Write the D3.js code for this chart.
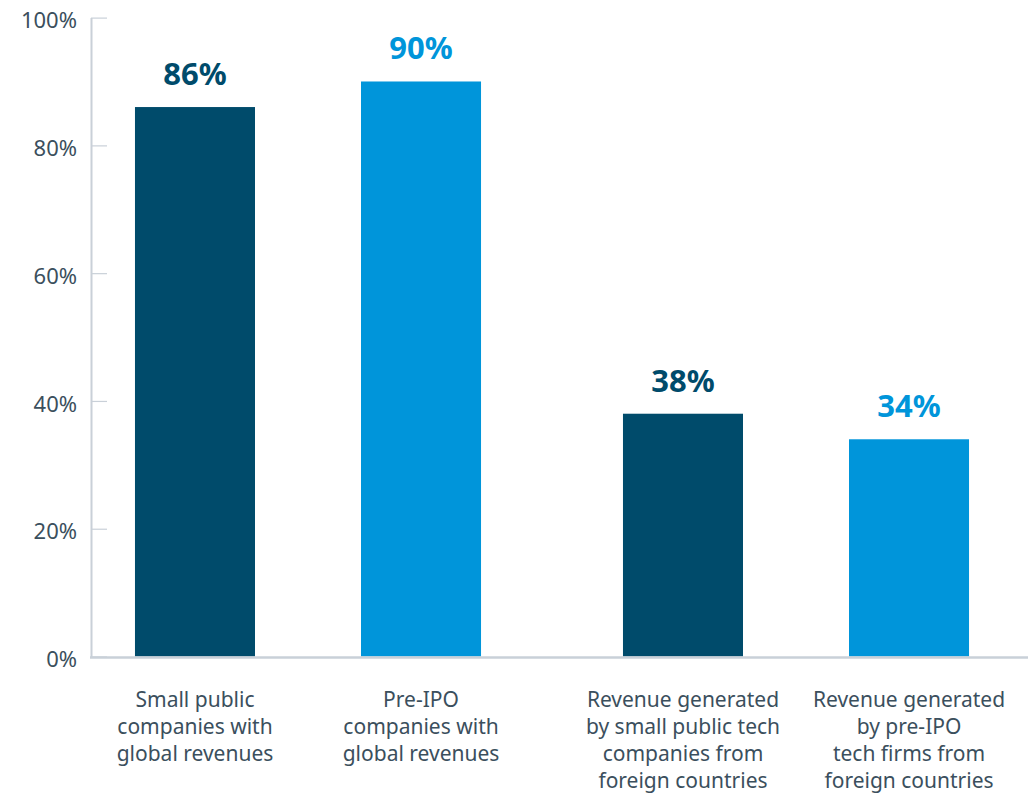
<!DOCTYPE html>
<html>
<head>
<meta charset="utf-8">
<script src="https://cdn.jsdelivr.net/npm/d3@7"></script>
<style>
  html, body { margin: 0; padding: 0; background: #fff; }
  svg { display: block; font-family: "Noto Sans", "Open Sans", sans-serif; }
</style>
</head>
<body>
<svg id="chart" width="1033" height="796"></svg>
<script>
// Chart data
const groups = ["global", "foreign"];
const series = ["public", "preIPO"];
const categoryLabels = [
  ["Small public", "companies with", "global revenues"],
  ["Pre-IPO", "companies with", "global revenues"],
  ["Revenue generated", "by small public tech", "companies from", "foreign countries"],
  ["Revenue generated", "by pre-IPO", "tech firms from", "foreign countries"]
];
const values = [86, 90, 38, 34];
const yTicks = [0, 20, 40, 60, 80, 100];

const colors = { public: "#004b6b", preIPO: "#0095da" };
const rows = values.map((v, i) => ({
  group: groups[Math.floor(i / 2)],
  series: series[i % 2],
  value: v,
  label: categoryLabels[i]
}));

const svg = d3.select("#chart");
const axisX = 91, plotRight = 1028, baseY = 656.5, topY = 17.6;

const y = d3.scaleLinear().domain([0, 100]).range([baseY, topY]);
const x0 = d3.scaleBand().domain(groups).range([64, 1040]).padding(0);
const x1 = d3.scaleBand().domain(series).range([0, x0.bandwidth()])
  .paddingInner(0.469).paddingOuter(0.314);

// Y axis with inward ticks
const yAxis = svg.append("g")
  .attr("transform", `translate(${axisX},0)`)
  .call(d3.axisLeft(y).tickValues(yTicks).tickFormat(d => d + "%")
    .tickSizeInner(-16).tickSizeOuter(0).tickPadding(14));
yAxis.select(".domain").attr("stroke", "#c9d0d8").attr("stroke-width", 2);
yAxis.selectAll(".tick line").attr("stroke", "#c9d0d8").attr("stroke-width", 1.2);
yAxis.selectAll(".tick text")
  .attr("fill", "#3b4f5d").attr("font-size", 22)
  .attr("dy", "0.46em")
  .attr("font-family", "'Noto Sans', sans-serif");

// Bars
const bars = svg.append("g");
bars.selectAll("rect").data(rows).join("rect")
  .attr("x", d => x0(d.group) + x1(d.series))
  .attr("y", d => y(d.value))
  .attr("width", x1.bandwidth())
  .attr("height", d => y(0) - y(d.value))
  .attr("fill", d => colors[d.series]);

// Baseline
svg.append("line")
  .attr("x1", axisX - 1).attr("x2", plotRight)
  .attr("y1", baseY + 1).attr("y2", baseY + 1)
  .attr("stroke", "#c9d0d8").attr("stroke-width", 2.5);

// Value labels
svg.append("g").selectAll("text").data(rows).join("text")
  .attr("x", d => x0(d.group) + x1(d.series) + x1.bandwidth() / 2)
  .attr("y", d => y(d.value) - 22)
  .attr("text-anchor", "middle")
  .attr("font-size", 31).attr("font-weight", 700)
  .attr("fill", d => colors[d.series])
  .text(d => d.value + "%");

// Category labels
const cat = svg.append("g").selectAll("text").data(rows).join("text")
  .attr("text-anchor", "middle")
  .attr("font-size", 21)
  .attr("fill", "#3b4f5d")
  .attr("transform", d => `translate(${x0(d.group) + x1(d.series) + x1.bandwidth() / 2},707)`);
cat.selectAll("tspan").data(d => d.label).join("tspan")
  .attr("x", 0).attr("y", (d, i) => i * 27)
  .text(d => d);
</script>
</body>
</html>
